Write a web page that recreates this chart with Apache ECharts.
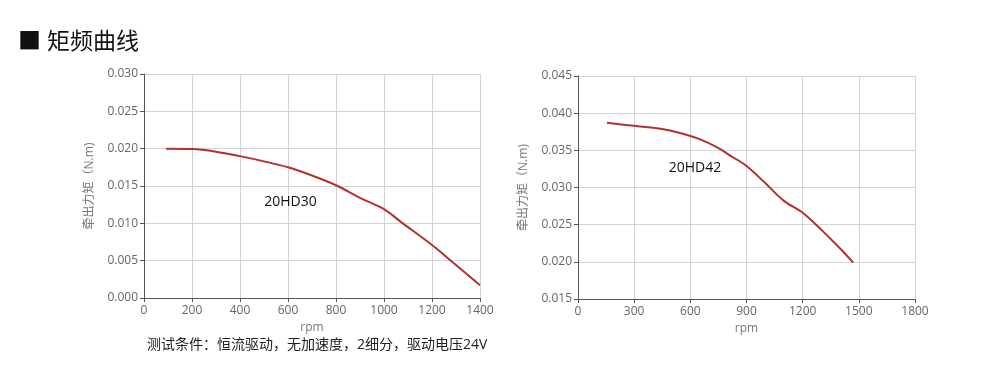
<!DOCTYPE html>
<html><head><meta charset="utf-8">
<script src="https://cdn.jsdelivr.net/npm/echarts@6/dist/echarts.min.js"></script>
<style>html,body{margin:0;padding:0;background:#fff}#c{width:1000px;height:386px}</style>
</head><body><div id="c"></div>
<script>
// Chart 1: 20HD30
const rpm1 = [92, 200, 300, 400, 500, 600, 700, 800, 900, 1000, 1070, 1200, 1260, 1400];
const torque1 = [0.0200, 0.01995, 0.0196, 0.0190, 0.0183, 0.0175, 0.0164, 0.0151, 0.0134, 0.0119, 0.0102, 0.0071, 0.0055, 0.0017];
// Chart 2: 20HD42
const rpm2 = [155, 300, 440, 550, 650, 750, 800, 900, 1000, 1100, 1200, 1300, 1400, 1470];
const torque2 = [0.0387, 0.0383, 0.0379, 0.0373, 0.0365, 0.0353, 0.0345, 0.0329, 0.0306, 0.0282, 0.0266, 0.0243, 0.0218, 0.0199];
const label1 = '20HD30', label2 = '20HD42';
const x1Ticks = {min: 0, max: 1400, interval: 200};
const y1Ticks = {min: 0, max: 0.030, interval: 0.005};
const x2Ticks = {min: 0, max: 1800, interval: 300};
const y2Ticks = {min: 0.015, max: 0.045, interval: 0.005};
const yName = '牵出力矩（N.m)';
const xName = 'rpm';
const title = '■ 矩频曲线';
const note = '测试条件：恒流驱动，无加速度，2细分，驱动电压24V';

const font = '"Open Sans","Noto Sans CJK SC",sans-serif';
const red = '#b3302c';
function xAxis(gi, t){
  return {type:'value', gridIndex:gi, min:t.min, max:t.max, interval:t.interval,
    name:xName, nameLocation:'middle', nameGap:22,
    nameTextStyle:{color:'#777', fontSize:12, fontFamily:font},
    axisLine:{lineStyle:{color:'#555'}}, axisTick:{show:true,length:4,lineStyle:{color:'#555'}},
    axisLabel:{color:'#666', fontSize:12, fontFamily:font, margin:7, formatter:v=>String(v)},
    splitLine:{lineStyle:{color:'#d4d4d4'}}};
}
function yAxis(gi, t){
  return {type:'value', gridIndex:gi, min:t.min, max:t.max, interval:t.interval,
    name:yName, nameLocation:'middle', nameGap:48,
    nameTextStyle:{color:'#777', fontSize:12, fontFamily:font},
    axisLine:{show:true, lineStyle:{color:'#555'}}, axisTick:{show:true,length:4,lineStyle:{color:'#555'}},
    axisLabel:{color:'#666', fontSize:12, fontFamily:font, margin:6, formatter:v=>v.toFixed(3)},
    splitLine:{lineStyle:{color:'#d4d4d4'}}};
}
function series(gi, xs, ys, lbl, coord){
  return {type:'line', xAxisIndex:gi, yAxisIndex:gi, smooth:0.35, symbol:'none',
    data: xs.map((x,i)=>[x, ys[i]]), lineStyle:{color:red, width:2},
    markPoint:{symbol:'circle', symbolSize:0, silent:true,
      data:[{coord:coord, label:{show:true, formatter:lbl, color:'#111', fontSize:14, fontFamily:font, position:'inside'}}]}};
}
const chart = echarts.init(document.getElementById('c'), null, {renderer:'canvas'});
chart.setOption({
  animation:false,
  title:[{text:title, left:13, top:26, textStyle:{color:'#111', fontSize:23, fontWeight:'normal', fontFamily:font}},
         {text:note, left:142, top:333, textStyle:{color:'#222', fontSize:14, fontWeight:'normal', fontFamily:font}}],
  grid:[{left:144, top:74, width:336, height:224},
        {left:578, top:76, width:337, height:223}],
  xAxis:[xAxis(0, x1Ticks), xAxis(1, x2Ticks)],
  yAxis:[yAxis(0, y1Ticks), yAxis(1, y2Ticks)],
  series:[series(0, rpm1, torque1, label1, [610, 0.0129]), series(1, rpm2, torque2, label2, [625, 0.0326])]
});
</script></body></html>
